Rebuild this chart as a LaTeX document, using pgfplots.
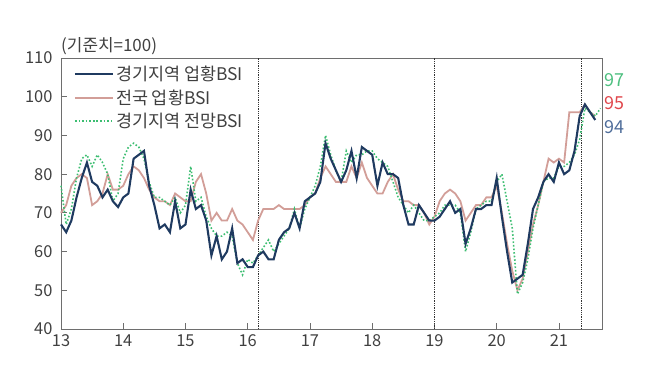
\documentclass[border=0pt]{standalone}
\usepackage{pgfplots}
\usepackage{pgfplotstable}
\pgfplotsset{compat=1.18}
\usepackage{fontspec}
\setmainfont{Noto Sans CJK KR}
\definecolor{cblue}{HTML}{1F3A60}
\definecolor{cred}{HTML}{D29E98}
\definecolor{cgreen}{HTML}{3DBE72}
\definecolor{lgreen}{HTML}{4DBF7F}
\definecolor{lred}{HTML}{E0474C}
\definecolor{lblue}{HTML}{4F6D9A}
\definecolor{txt}{HTML}{404040}
\definecolor{axc}{HTML}{6E6E6E}

\pgfplotstableread{
m blue red green
0 67 70 77
1 65 72 67
2 68 77 71
3 74 79 79
4 79 80 84
5 83 79 85
6 78 72 82
7 77 73 85
8 74 75 83
9 76 80 80
10 73 76 73
11 71.5 76 75
12 74 77 84
13 75 80 87
14 84 82 88
15 85 81 87
16 86 79 84
17 77 76 78
18 72 74 74
19 66 73 74
20 67 73 73
21 65 72 72
22 73 75 74
23 66 74 70
24 67 73 72
25 76 73 82
26 71 78 73
27 72 80 74
28 68 75 69
29 59 68 66
30 64 70 64
31 58 68 64
32 60 68 65
33 66 71 64
34 57 68 57
35 58 67 54
36 56 65 58
37 56 63 57
38 59 68 59
39 60 71 61
40 58 71 63
41 58 71 60
42 63 72 62
43 65 71 64
44 66 71 66
45 70 71 71
46 66 71 66
47 73 72 71
48 74 74 74
49 75 75 77
50 78 79 82
51 88 82 90
52 84 80 85
53 81 78 81
54 78 78 78
55 81 78 86
56 86 82 83
57 79 79 85
58 87 83 85
59 86 79 86
60 85 77 86
61 77 75 84
62 83 75 83
63 80 78 82
64 80 80 78
65 79 76 74
66 72 73 72
67 67 73 70
68 67 72 72
69 72 72 70
70 70 70 68
71 68 67 68
72 68 69 69
73 69 73 70
74 71 75 72
75 73 76 72
76 70 75 72
77 71 73 70
78 62 68 60
79 66 70 65
80 71 72 71
81 71 72 72
82 72 74 73
83 72 74 73
84 79 77 78
85 69 70 80
86 60 62 73
87 52 55 66
88 53 50 49
89 54 53 52
90 62 60 58
91 71 67 66
92 74 72 72
93 78 78 78
94 80 84 79
95 78 83 79
96 83 84 82
97 80 83 82
98 81 96 83
99 86 96 85
100 95 96 89
101 98 98 97
102 96 96 96
103 94 95 95
104 nan nan 97
}\bsi

\begin{document}
\begin{tikzpicture}
\path[use as bounding box] (0,0) rectangle (650bp,378bp);
\begin{axis}[
  at={(61bp,49bp)}, anchor=south west,
  width=541bp, height=271bp, scale only axis,
  xmin=0, xmax=104.3, ymin=40, ymax=110,
  xtick={0,12,24,36,48,60,72,84,96},
  xticklabels={13,14,15,16,17,18,19,20,21},
  ytick={40,50,60,70,80,90,100,110},
  tick align=inside,
  xtick pos=lower, ytick pos=left,
  major tick length=6bp,
  axis line style={draw=axc, line width=0.9pt},
  tick style={draw=axc, line width=0.9pt},
  ticklabel style={font=\fontsize{16.5}{18}\selectfont, text=txt},
  yticklabel style={xshift=-5bp},
  xticklabel style={yshift=-2bp},
  /pgf/number format/assume math mode=true,
  clip=false,
  legend style={at={(rel axis cs:0.018,0.985)}, anchor=north west, draw=none, fill=none,
    font=\fontsize{17.5}{19}\selectfont, text=txt, row sep=3.5bp},
  legend cell align=left,
  legend image code/.code={\draw[#1] (0bp,0bp) -- (38bp,0bp);},
]
\addplot[forget plot, black!80, densely dotted, line width=0.8pt] coordinates {(38.1,40) (38.1,110)};
\addplot[forget plot, black!80, densely dotted, line width=0.8pt] coordinates {(72,40) (72,110)};
\addplot[forget plot, black!80, densely dotted, line width=0.8pt] coordinates {(100.3,40) (100.3,110)};
\addplot[forget plot, cred, line width=1.8pt] table[x=m, y=red] {\bsi};
\addplot[forget plot, cgreen, line width=1.6pt, dotted] table[x=m, y=green] {\bsi};
\addplot[forget plot, cblue, line width=2.1pt] table[x=m, y=blue] {\bsi};
\addlegendimage{cblue, line width=2.1pt}
\addlegendimage{cred, line width=1.8pt}
\addlegendimage{cgreen, line width=1.6pt, dotted}
\legend{경기지역 업황BSI, 전국 업황BSI, 경기지역 전망BSI}
\node[anchor=south west, inner sep=0pt, font=\fontsize{17}{19}\selectfont, text=txt] at (rel axis cs:0,1) [yshift=3bp] {(기준치=100)};
\node[anchor=west, inner sep=0pt, font=\fontsize{18}{20}\selectfont, text=lgreen] at (axis cs:104.3,104.3) [xshift=2bp] {97};
\node[anchor=west, inner sep=0pt, font=\fontsize{18}{20}\selectfont, text=lred] at (axis cs:104.3,98.4) [xshift=2bp] {95};
\node[anchor=west, inner sep=0pt, font=\fontsize{18}{20}\selectfont, text=lblue] at (axis cs:104.3,92.2) [xshift=2bp] {94};
\end{axis}
\end{tikzpicture}
\end{document}
